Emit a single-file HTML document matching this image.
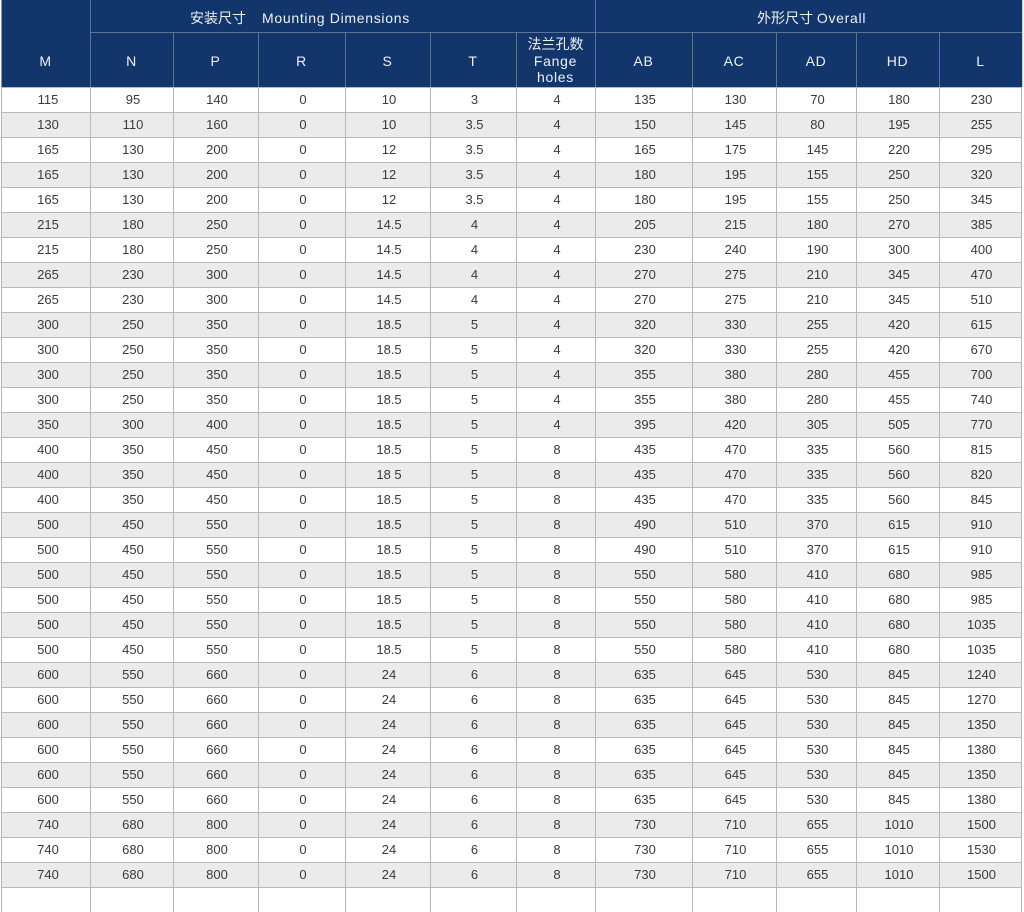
<!DOCTYPE html>
<html><head><meta charset="utf-8">
<style>
html,body{margin:0;padding:0;background:#fff;}
body{width:1024px;height:890px;overflow:hidden;position:relative;font-family:"Liberation Sans","Noto Sans CJK SC",sans-serif;}
.hdr{position:absolute;left:1px;top:0;width:1021px;height:87px;background:#12366b;}
.vl{position:absolute;width:1px;background:#5d7396;}
.hl{position:absolute;height:1px;background:#5d7396;}
.ht{position:absolute;color:#eef1f6;font-size:14px;text-align:center;}
.lat{letter-spacing:0.7px;}
.body{position:absolute;left:1px;top:87px;width:1021px;}
.r{display:grid;grid-template-columns:89px 83px 85px 87px 85px 86px 79px 97px 84px 80px 83px 83px;height:25px;box-sizing:border-box;border-top:1px solid #b8b8b8;background:#fff;}
.r:nth-child(even){background:#ebebeb;}
.r span{border-left:1px solid #b8b8b8;text-align:center;line-height:24px;font-size:13px;color:#3a3a3a;padding-left:2px;}
.r span:last-child{border-right:1px solid #b8b8b8;}
.r span:first-child{padding-left:4px;}
</style></head><body>
<div class="hdr"></div>
<div class="vl" style="left:1px;top:0;height:87px;background:#8a9ab3"></div>
<div class="vl" style="left:90px;top:0;height:87px"></div>
<div class="vl" style="left:595px;top:0;height:87px"></div>
<div class="vl" style="left:1022px;top:0;height:87px;background:#c8ced8"></div>
<div class="hl" style="left:90px;top:32px;width:932px"></div>
<div class="vl" style="left:173px;top:33px;height:54px"></div>
<div class="vl" style="left:258px;top:33px;height:54px"></div>
<div class="vl" style="left:345px;top:33px;height:54px"></div>
<div class="vl" style="left:430px;top:33px;height:54px"></div>
<div class="vl" style="left:516px;top:33px;height:54px"></div>
<div class="vl" style="left:692px;top:33px;height:54px"></div>
<div class="vl" style="left:776px;top:33px;height:54px"></div>
<div class="vl" style="left:856px;top:33px;height:54px"></div>
<div class="vl" style="left:939px;top:33px;height:54px"></div>

<div class="ht" style="left:190px;top:9px;text-align:left;line-height:18px;white-space:nowrap">安装尺寸</div>
<div class="ht lat" style="left:262px;top:9px;text-align:left;line-height:18px;white-space:nowrap">Mounting Dimensions</div>
<div class="ht" style="left:757px;top:9px;text-align:left;line-height:18px;white-space:nowrap">外形尺寸 <span class="lat">Overall</span></div>

<div class="ht lat" style="left:1px;top:52px;width:89px;line-height:18px">M</div>
<div class="ht lat" style="left:90px;top:52px;width:83px;line-height:18px">N</div>
<div class="ht lat" style="left:173px;top:52px;width:85px;line-height:18px">P</div>
<div class="ht lat" style="left:258px;top:52px;width:87px;line-height:18px">R</div>
<div class="ht lat" style="left:345px;top:52px;width:85px;line-height:18px">S</div>
<div class="ht lat" style="left:430px;top:52px;width:86px;line-height:18px">T</div>
<div class="ht" style="left:516px;top:36px;width:79px;line-height:16.5px">法兰孔数<br><span class="lat">Fange</span><br><span class="lat">holes</span></div>
<div class="ht lat" style="left:595px;top:52px;width:97px;line-height:18px">AB</div>
<div class="ht lat" style="left:692px;top:52px;width:84px;line-height:18px">AC</div>
<div class="ht lat" style="left:776px;top:52px;width:80px;line-height:18px">AD</div>
<div class="ht lat" style="left:856px;top:52px;width:83px;line-height:18px">HD</div>
<div class="ht lat" style="left:939px;top:52px;width:83px;line-height:18px">L</div>

<div class="body">
<div class="r"><span>115</span><span>95</span><span>140</span><span>0</span><span>10</span><span>3</span><span>4</span><span>135</span><span>130</span><span>70</span><span>180</span><span>230</span></div>
<div class="r"><span>130</span><span>110</span><span>160</span><span>0</span><span>10</span><span>3.5</span><span>4</span><span>150</span><span>145</span><span>80</span><span>195</span><span>255</span></div>
<div class="r"><span>165</span><span>130</span><span>200</span><span>0</span><span>12</span><span>3.5</span><span>4</span><span>165</span><span>175</span><span>145</span><span>220</span><span>295</span></div>
<div class="r"><span>165</span><span>130</span><span>200</span><span>0</span><span>12</span><span>3.5</span><span>4</span><span>180</span><span>195</span><span>155</span><span>250</span><span>320</span></div>
<div class="r"><span>165</span><span>130</span><span>200</span><span>0</span><span>12</span><span>3.5</span><span>4</span><span>180</span><span>195</span><span>155</span><span>250</span><span>345</span></div>
<div class="r"><span>215</span><span>180</span><span>250</span><span>0</span><span>14.5</span><span>4</span><span>4</span><span>205</span><span>215</span><span>180</span><span>270</span><span>385</span></div>
<div class="r"><span>215</span><span>180</span><span>250</span><span>0</span><span>14.5</span><span>4</span><span>4</span><span>230</span><span>240</span><span>190</span><span>300</span><span>400</span></div>
<div class="r"><span>265</span><span>230</span><span>300</span><span>0</span><span>14.5</span><span>4</span><span>4</span><span>270</span><span>275</span><span>210</span><span>345</span><span>470</span></div>
<div class="r"><span>265</span><span>230</span><span>300</span><span>0</span><span>14.5</span><span>4</span><span>4</span><span>270</span><span>275</span><span>210</span><span>345</span><span>510</span></div>
<div class="r"><span>300</span><span>250</span><span>350</span><span>0</span><span>18.5</span><span>5</span><span>4</span><span>320</span><span>330</span><span>255</span><span>420</span><span>615</span></div>
<div class="r"><span>300</span><span>250</span><span>350</span><span>0</span><span>18.5</span><span>5</span><span>4</span><span>320</span><span>330</span><span>255</span><span>420</span><span>670</span></div>
<div class="r"><span>300</span><span>250</span><span>350</span><span>0</span><span>18.5</span><span>5</span><span>4</span><span>355</span><span>380</span><span>280</span><span>455</span><span>700</span></div>
<div class="r"><span>300</span><span>250</span><span>350</span><span>0</span><span>18.5</span><span>5</span><span>4</span><span>355</span><span>380</span><span>280</span><span>455</span><span>740</span></div>
<div class="r"><span>350</span><span>300</span><span>400</span><span>0</span><span>18.5</span><span>5</span><span>4</span><span>395</span><span>420</span><span>305</span><span>505</span><span>770</span></div>
<div class="r"><span>400</span><span>350</span><span>450</span><span>0</span><span>18.5</span><span>5</span><span>8</span><span>435</span><span>470</span><span>335</span><span>560</span><span>815</span></div>
<div class="r"><span>400</span><span>350</span><span>450</span><span>0</span><span>18 5</span><span>5</span><span>8</span><span>435</span><span>470</span><span>335</span><span>560</span><span>820</span></div>
<div class="r"><span>400</span><span>350</span><span>450</span><span>0</span><span>18.5</span><span>5</span><span>8</span><span>435</span><span>470</span><span>335</span><span>560</span><span>845</span></div>
<div class="r"><span>500</span><span>450</span><span>550</span><span>0</span><span>18.5</span><span>5</span><span>8</span><span>490</span><span>510</span><span>370</span><span>615</span><span>910</span></div>
<div class="r"><span>500</span><span>450</span><span>550</span><span>0</span><span>18.5</span><span>5</span><span>8</span><span>490</span><span>510</span><span>370</span><span>615</span><span>910</span></div>
<div class="r"><span>500</span><span>450</span><span>550</span><span>0</span><span>18.5</span><span>5</span><span>8</span><span>550</span><span>580</span><span>410</span><span>680</span><span>985</span></div>
<div class="r"><span>500</span><span>450</span><span>550</span><span>0</span><span>18.5</span><span>5</span><span>8</span><span>550</span><span>580</span><span>410</span><span>680</span><span>985</span></div>
<div class="r"><span>500</span><span>450</span><span>550</span><span>0</span><span>18.5</span><span>5</span><span>8</span><span>550</span><span>580</span><span>410</span><span>680</span><span>1035</span></div>
<div class="r"><span>500</span><span>450</span><span>550</span><span>0</span><span>18.5</span><span>5</span><span>8</span><span>550</span><span>580</span><span>410</span><span>680</span><span>1035</span></div>
<div class="r"><span>600</span><span>550</span><span>660</span><span>0</span><span>24</span><span>6</span><span>8</span><span>635</span><span>645</span><span>530</span><span>845</span><span>1240</span></div>
<div class="r"><span>600</span><span>550</span><span>660</span><span>0</span><span>24</span><span>6</span><span>8</span><span>635</span><span>645</span><span>530</span><span>845</span><span>1270</span></div>
<div class="r"><span>600</span><span>550</span><span>660</span><span>0</span><span>24</span><span>6</span><span>8</span><span>635</span><span>645</span><span>530</span><span>845</span><span>1350</span></div>
<div class="r"><span>600</span><span>550</span><span>660</span><span>0</span><span>24</span><span>6</span><span>8</span><span>635</span><span>645</span><span>530</span><span>845</span><span>1380</span></div>
<div class="r"><span>600</span><span>550</span><span>660</span><span>0</span><span>24</span><span>6</span><span>8</span><span>635</span><span>645</span><span>530</span><span>845</span><span>1350</span></div>
<div class="r"><span>600</span><span>550</span><span>660</span><span>0</span><span>24</span><span>6</span><span>8</span><span>635</span><span>645</span><span>530</span><span>845</span><span>1380</span></div>
<div class="r"><span>740</span><span>680</span><span>800</span><span>0</span><span>24</span><span>6</span><span>8</span><span>730</span><span>710</span><span>655</span><span>1010</span><span>1500</span></div>
<div class="r"><span>740</span><span>680</span><span>800</span><span>0</span><span>24</span><span>6</span><span>8</span><span>730</span><span>710</span><span>655</span><span>1010</span><span>1530</span></div>
<div class="r"><span>740</span><span>680</span><span>800</span><span>0</span><span>24</span><span>6</span><span>8</span><span>730</span><span>710</span><span>655</span><span>1010</span><span>1500</span></div>
<div class="r"><span></span><span></span><span></span><span></span><span></span><span></span><span></span><span></span><span></span><span></span><span></span><span></span></div>
</div>
</body></html>
